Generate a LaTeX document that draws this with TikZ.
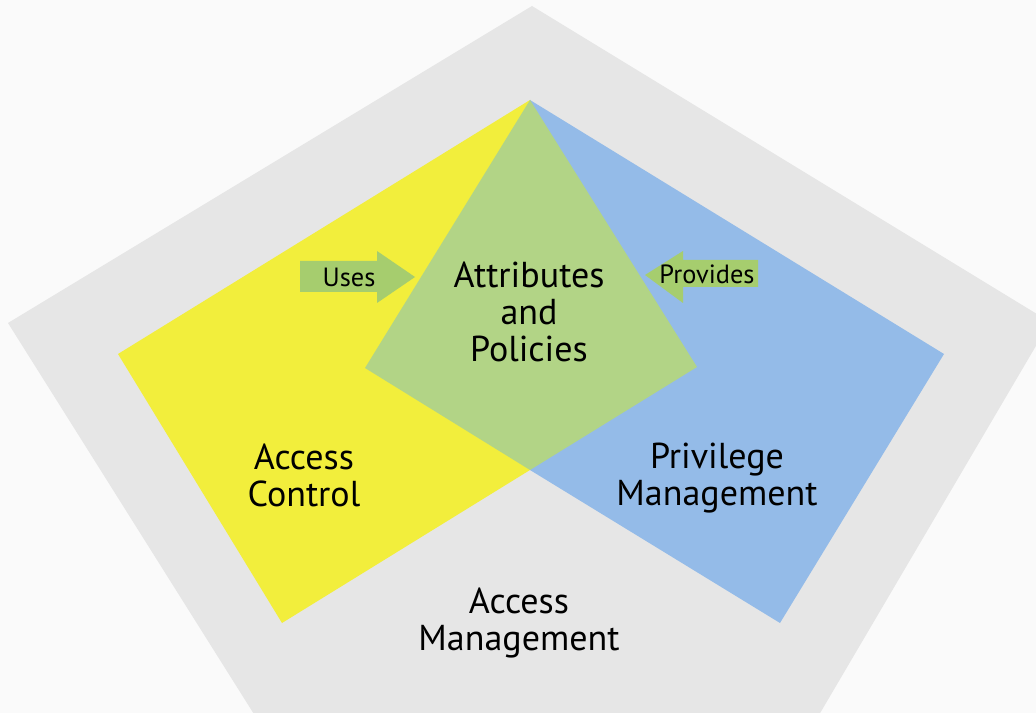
\documentclass[tikz,border=0pt]{standalone}
\usepackage{fontspec}
\setmainfont{PT Sans}
\definecolor{bgwhite}{HTML}{FAFAFA}
\definecolor{amgray}{HTML}{E6E6E6}
\definecolor{acyellow}{HTML}{F2EE3C}
\definecolor{pmblue}{HTML}{94BBE8}
\definecolor{apgreen}{HTML}{B2D486}
\definecolor{arrgreen}{HTML}{A6CD6E}
\tikzset{
 lbl/.style={align=center, font=\fontsize{20.5}{21}\selectfont, inner sep=0pt},
 small/.style={font=\fontsize{15}{17}\selectfont, inner sep=0pt}
}
\begin{document}
\begin{tikzpicture}[x=0.02cm, y=-0.02cm, line join=round]
 \useasboundingbox (0,0) rectangle (1036,713);
 \fill[bgwhite] (0,0) rectangle (1036,713);
 \begin{scope}
 \clip (0,0) rectangle (1036,713);
 % outer pentagon
 \fill[amgray] (532,6)--(1050,322)--(769,800)--(308,800)--(8,323)--cycle;
 \end{scope}
 % corners shared by the three inner shapes
 \coordinate (apex) at (530,100);
 \coordinate (notch) at (530,470);
 \fill[acyellow] (apex)--(118,354)--(282,623)--(notch)--cycle;
 \fill[pmblue] (apex)--(944,354)--(780,623)--(notch)--cycle;
 \fill[apgreen] (apex)--(365,368)--(notch)--(697,367)--cycle;
 % arrows
 \fill[arrgreen] (300,261)--(377,261)--(377,251)--(415,277)--(377,303)--(377,292)--(300,292)--cycle;
 \fill[arrgreen] (758,260)--(683,260)--(683,251)--(645,275)--(683,303)--(683,287)--(758,287)--cycle;
 \node[small] (uses) at (349,277) {Uses};
 \node[small] (provides) at (707,274) {Provides};
 % labels
 \node[lbl] (attr) at (529,312) {Attributes\\and\\Policies};
 \node[lbl] (ac) at (304,475) {Access\\Control};
 \node[lbl] (pm) at (717,478) {Privilege\\Management};
 \node[lbl] (am) at (519,623) {Access\\Management};
\end{tikzpicture}
\end{document}
